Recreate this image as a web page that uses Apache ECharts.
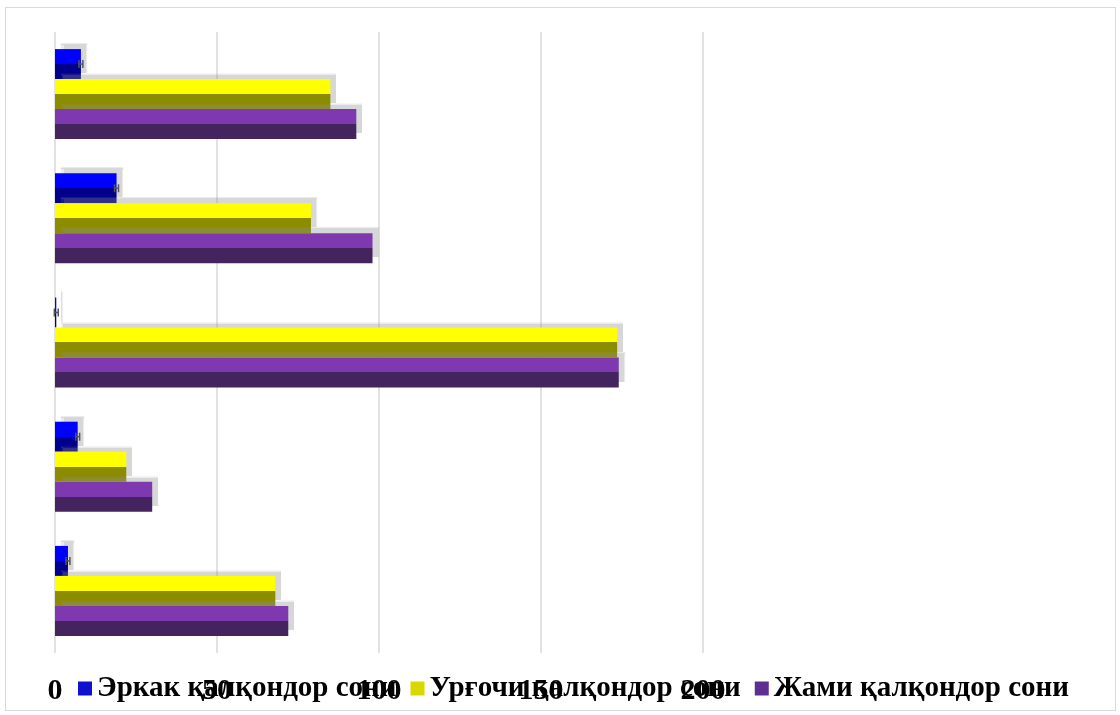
<!DOCTYPE html>
<html><head><meta charset="utf-8">
<script src="https://cdn.jsdelivr.net/npm/echarts@6/dist/echarts.min.js"></script>
<style>
html,body{margin:0;padding:0;background:#fff;}
#frame{position:absolute;left:5px;top:7px;width:1111px;height:704px;border:1px solid #d9d9d9;box-sizing:border-box;}
#c{position:absolute;left:0;top:0;width:1120px;height:715px;}
</style></head>
<body><div id="frame"></div><div id="c"></div>
<script>
const categories = ['1', '2', '3', '4', '5'];
const seriesNames = ['Эркак қалқондор сони', 'Урғочи қалқондор сони', 'Жами қалқондор сони'];
const maleValues = [8, 19, 0.4, 7, 4];
const maleErrors = [0.6, 0.6, 0.6, 0.6, 0.6];
const femaleValues = [85, 79, 173.5, 22, 68];
const totalValues = [93, 98, 174, 30, 72];
const xTicks = [0, 50, 100, 150, 200];

function grad(top, bottom) {
  return new echarts.graphic.LinearGradient(0, 0, 0, 1, [
    {offset: 0, color: top}, {offset: 0.5, color: top},
    {offset: 0.5, color: bottom}, {offset: 1, color: bottom}
  ]);
}
const styles = [
  {top: '#0000ff', bottom: '#00008c', legend: '#1010d0'},
  {top: '#ffff00', bottom: '#8c8c00', legend: '#d8d800'},
  {top: '#7e38b0', bottom: '#43245e', legend: '#5e2e90'}
];
const dataSets = [maleValues, femaleValues, totalValues];
const BAR_W = 30;

const series = dataSets.map((d, i) => ({
  name: seriesNames[i], type: 'bar', data: d, barWidth: BAR_W, barGap: '0%',
  itemStyle: {
    color: grad(styles[i].top, styles[i].bottom),
    shadowColor: 'rgba(140,140,140,0.35)', shadowBlur: 1, shadowOffsetX: 6, shadowOffsetY: -6
  }
}));
series.push({
  type: 'custom', name: 'err', silent: true, z: 5,
  data: maleValues.map((v, i) => [i, v, maleErrors[i]]),
  renderItem: function (params, api) {
    const idx = api.value(0), v = api.value(1), e = api.value(2);
    const c = api.coord([v, idx]);
    const lo = api.coord([v - e, idx])[0], hi = api.coord([v + e, idx])[0];
    const y = c[1] - BAR_W, h = 4;
    const st = {stroke: '#555', lineWidth: 1.5};
    return {type: 'group', children: [
      {type: 'line', shape: {x1: lo, y1: y, x2: hi, y2: y}, style: st},
      {type: 'line', shape: {x1: lo, y1: y - h, x2: lo, y2: y + h}, style: st},
      {type: 'line', shape: {x1: hi, y1: y - h, x2: hi, y2: y + h}, style: st}
    ]};
  }
});

const chart = echarts.init(document.getElementById('c'));
chart.setOption({
  animation: false,
  grid: {left: 55, right: 417, top: 32, bottom: 62, containLabel: false},
  legend: {
    bottom: 7, left: 73, itemWidth: 14, itemHeight: 14, itemGap: 14,
    icon: 'rect',
    textStyle: {fontFamily: 'Liberation Serif', fontWeight: 'bold', fontSize: 29, color: '#000'},
    data: seriesNames.map((n, i) => ({name: n, itemStyle: {color: styles[i].legend}}))
  },
  xAxis: {
    type: 'value', min: 0, max: 200, interval: 50,
    axisLine: {show: false}, axisTick: {show: false},
    splitLine: {lineStyle: {color: '#d9d9d9', width: 1.5}},
    axisLabel: {
      margin: 23, fontFamily: 'Liberation Serif', fontWeight: 'bold', fontSize: 30, color: '#000',
      formatter: v => xTicks.includes(v) ? String(v) : ''
    }
  },
  yAxis: {
    type: 'category', data: categories, inverse: true,
    axisLine: {show: false}, axisTick: {show: false}, axisLabel: {show: false}
  },
  series: series
});
</script></body></html>
